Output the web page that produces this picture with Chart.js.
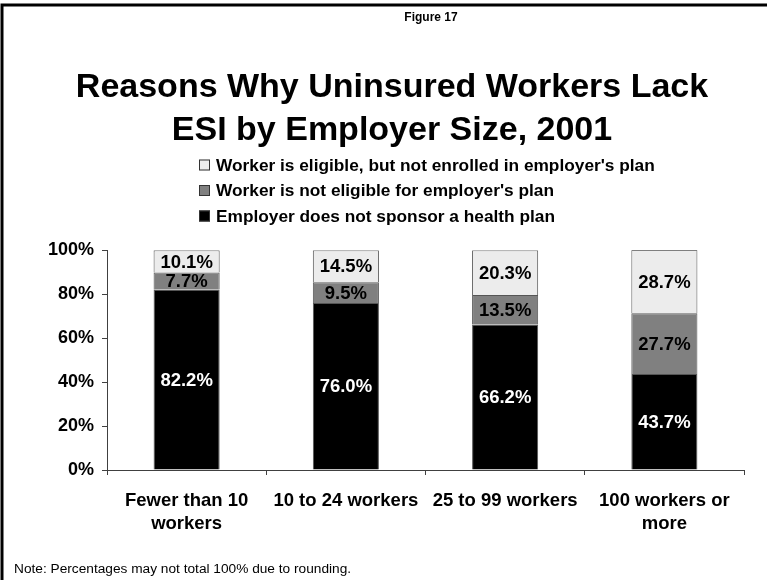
<!DOCTYPE html>
<html>
<head>
<meta charset="utf-8">
<script src="https://cdn.jsdelivr.net/npm/chart.js"></script>
<style>
  html, body { margin: 0; padding: 0; background: #fff; }
  #wrap { width: 767px; height: 580px; }
</style>
</head>
<body>
<div id="wrap"><canvas id="myChart" width="767" height="580"></canvas></div>

<script>
  // employer size groups
  const sizes = [['Fewer than 10', 'workers'], '10 to 24 workers', '25 to 99 workers', ['100 workers or', 'more']];

  // share of uninsured workers by reason (%)
  const noPlan = [82.2, 76.0, 66.2, 43.7];
  const notEligible = [7.7, 9.5, 13.5, 27.7];
  const notEnrolled = [10.1, 14.5, 20.3, 28.7];

  const yTicks = [0, 20, 40, 60, 80, 100];

  const FONT = "'Liberation Sans', Arial, sans-serif";

  // frame, figure number, legend and footnote
  const pageBits = {
    id: 'pageBits',
    beforeDraw(chart) {
      const ctx = chart.ctx;
      ctx.save();
      ctx.fillStyle = '#fff';
      ctx.fillRect(0, 0, chart.width, chart.height);
      ctx.strokeStyle = '#000';
      ctx.lineWidth = 3;
      ctx.beginPath();
      ctx.moveTo(2, chart.height + 5);
      ctx.lineTo(2, 5);
      ctx.lineTo(chart.width + 5, 5);
      ctx.stroke();
      ctx.restore();
    },
    afterDraw(chart) {
      const ctx = chart.ctx;
      ctx.save();
      ctx.fillStyle = '#000';
      ctx.textBaseline = 'middle';

      ctx.font = 'bold 12px ' + FONT;
      ctx.textAlign = 'center';
      ctx.fillText('Figure 17', 431, 18);

      // legend, listed top segment first
      const order = [2, 1, 0];
      ctx.textAlign = 'left';
      ctx.font = 'bold 17.3px ' + FONT;
      order.forEach((di, i) => {
        const ds = chart.data.datasets[di];
        const y = 165 + i * 25.5;
        ctx.fillStyle = ds.backgroundColor;
        ctx.fillRect(199, y - 5.5, 11, 11);
        ctx.strokeStyle = '#333';
        ctx.lineWidth = 1;
        ctx.strokeRect(199.5, y - 5, 10, 10);
        ctx.fillStyle = '#000';
        ctx.fillText(ds.label, 216, y + 1);
      });

      ctx.font = '13.7px ' + FONT;
      ctx.fillText('Note: Percentages may not total 100% due to rounding.', 14, 569);
      ctx.restore();
    }
  };

  // value labels in the middle of each segment
  const segmentLabels = {
    id: 'segmentLabels',
    afterDatasetsDraw(chart) {
      const ctx = chart.ctx;
      ctx.save();
      ctx.font = 'bold 18.5px ' + FONT;
      ctx.textAlign = 'center';
      ctx.textBaseline = 'middle';
      chart.data.datasets.forEach((ds, di) => {
        ctx.fillStyle = di === 0 ? '#fff' : '#000';
        chart.getDatasetMeta(di).data.forEach((bar, i) => {
          const y = (bar.y + bar.base) / 2;
          ctx.fillText(ds.data[i].toFixed(1) + '%', bar.x, y + 1);
        });
      });
      ctx.restore();
    }
  };

  const ctx = document.getElementById('myChart').getContext('2d');
  const myChart = new Chart(ctx, {
    type: 'bar',
    data: {
      labels: sizes,
      datasets: [
        { label: 'Employer does not sponsor a health plan', data: noPlan, backgroundColor: '#000000' },
        { label: "Worker is not eligible for employer's plan", data: notEligible, backgroundColor: '#808080' },
        { label: "Worker is eligible, but not enrolled in employer's plan", data: notEnrolled, backgroundColor: '#ececec' }
      ]
    },
    options: {
      responsive: false,
      animation: false,
      layout: { padding: { left: 40, right: 23, top: 0, bottom: 0 } },
      datasets: {
        bar: {
          borderColor: '#555',
          borderWidth: 1,
          categoryPercentage: 1,
          barPercentage: 0.415
        }
      },
      scales: {
        x: {
          stacked: true,
          grid: { display: true, drawOnChartArea: false, tickLength: 5, color: '#404040', offset: true },
          border: { color: '#404040', width: 1 },
          ticks: { color: '#000', font: { family: FONT, size: 18.5, weight: 'bold', lineHeight: 1.25 }, padding: 14, maxRotation: 0, autoSkip: false },
          afterFit(scale) { scale.height = 110; }
        },
        y: {
          stacked: true,
          min: 0,
          max: 100,
          afterBuildTicks(scale) { scale.ticks = yTicks.map(v => ({ value: v })); },
          grid: { display: true, drawOnChartArea: false, tickLength: 5, color: '#404040' },
          border: { color: '#404040', width: 1 },
          ticks: {
            color: '#000',
            font: { family: FONT, size: 18, weight: 'bold' },
            padding: 8,
            callback: v => v + '%'
          },
          afterFit(scale) { scale.width = 67; }
        }
      },
      plugins: {
        legend: { display: false },
        tooltip: { enabled: false },
        title: {
          display: true,
          text: ['Reasons Why Uninsured Workers Lack', 'ESI by Employer Size, 2001'],
          color: '#000',
          font: { family: FONT, size: 34, weight: 'bold', lineHeight: 1.24 },
          padding: { top: 67, bottom: 99 }
        }
      }
    },
    plugins: [pageBits, segmentLabels]
  });
</script>
</body>
</html>
